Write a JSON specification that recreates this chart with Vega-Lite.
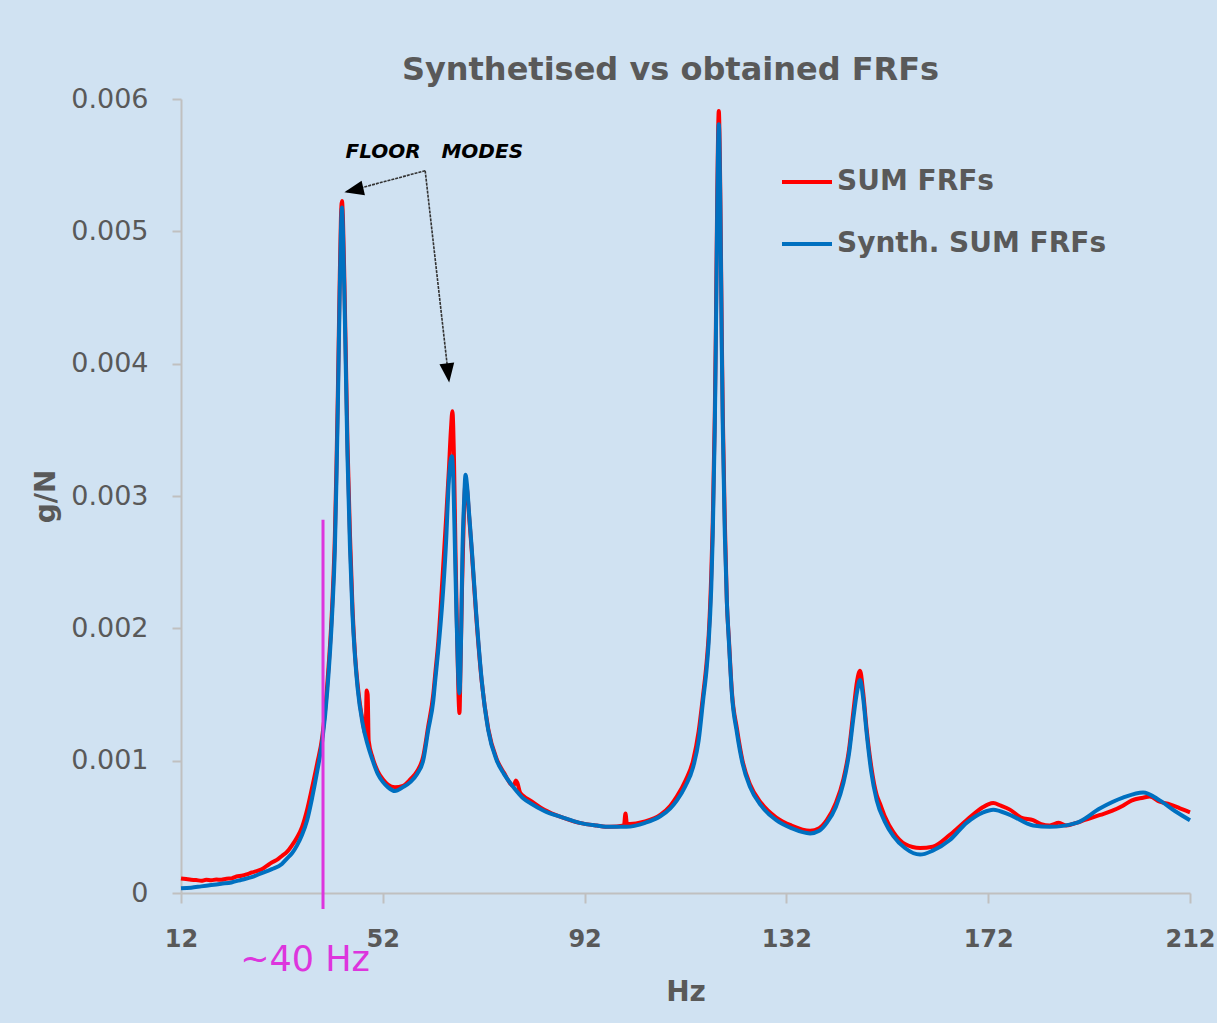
{
  "$schema": "https://vega.github.io/schema/vega-lite/v6.json",
  "width": 1009,
  "height": 794,
  "autosize": {"type": "none"},
  "padding": {"left": 181, "top": 99, "right": 27, "bottom": 130},
  "background": "#d0e2f2",
  "title": {
    "text": "Synthetised vs obtained FRFs",
    "font": "DejaVu Sans",
    "fontSize": 32,
    "fontWeight": "bold",
    "color": "#595959",
    "anchor": "middle",
    "dx": -15,
    "offset": -2
  },
  "config": {
    "view": {"stroke": null},
    "font": "DejaVu Sans"
  },
  "datasets": {
    "curves": [
      {"hz": 12, "gN": 0.00011, "series": "SUM FRFs"},
      {"hz": 13, "gN": 0.000105, "series": "SUM FRFs"},
      {"hz": 14, "gN": 0.0001, "series": "SUM FRFs"},
      {"hz": 15, "gN": 0.000098, "series": "SUM FRFs"},
      {"hz": 16, "gN": 0.000092, "series": "SUM FRFs"},
      {"hz": 17, "gN": 0.0001, "series": "SUM FRFs"},
      {"hz": 18, "gN": 0.000096, "series": "SUM FRFs"},
      {"hz": 19, "gN": 0.000102, "series": "SUM FRFs"},
      {"hz": 20, "gN": 0.0001, "series": "SUM FRFs"},
      {"hz": 21, "gN": 0.000108, "series": "SUM FRFs"},
      {"hz": 22, "gN": 0.00011, "series": "SUM FRFs"},
      {"hz": 23, "gN": 0.000125, "series": "SUM FRFs"},
      {"hz": 24, "gN": 0.00013, "series": "SUM FRFs"},
      {"hz": 25, "gN": 0.00014, "series": "SUM FRFs"},
      {"hz": 26, "gN": 0.000155, "series": "SUM FRFs"},
      {"hz": 27, "gN": 0.000165, "series": "SUM FRFs"},
      {"hz": 28, "gN": 0.00018, "series": "SUM FRFs"},
      {"hz": 29, "gN": 0.000205, "series": "SUM FRFs"},
      {"hz": 30, "gN": 0.00023, "series": "SUM FRFs"},
      {"hz": 31, "gN": 0.00025, "series": "SUM FRFs"},
      {"hz": 32, "gN": 0.00028, "series": "SUM FRFs"},
      {"hz": 33, "gN": 0.00031, "series": "SUM FRFs"},
      {"hz": 34, "gN": 0.00036, "series": "SUM FRFs"},
      {"hz": 35, "gN": 0.00042, "series": "SUM FRFs"},
      {"hz": 36, "gN": 0.0005, "series": "SUM FRFs"},
      {"hz": 37, "gN": 0.00063, "series": "SUM FRFs"},
      {"hz": 38, "gN": 0.0008, "series": "SUM FRFs"},
      {"hz": 39, "gN": 0.00098, "series": "SUM FRFs"},
      {"hz": 40, "gN": 0.00118, "series": "SUM FRFs"},
      {"hz": 41, "gN": 0.00158, "series": "SUM FRFs"},
      {"hz": 42, "gN": 0.0022, "series": "SUM FRFs"},
      {"hz": 42.5, "gN": 0.0027, "series": "SUM FRFs"},
      {"hz": 42.8, "gN": 0.0032, "series": "SUM FRFs"},
      {"hz": 43.1, "gN": 0.0038, "series": "SUM FRFs"},
      {"hz": 43.4, "gN": 0.0045, "series": "SUM FRFs"},
      {"hz": 43.7, "gN": 0.0051, "series": "SUM FRFs"},
      {"hz": 43.9, "gN": 0.00523, "series": "SUM FRFs"},
      {"hz": 44.1, "gN": 0.0051, "series": "SUM FRFs"},
      {"hz": 44.4, "gN": 0.0046, "series": "SUM FRFs"},
      {"hz": 44.7, "gN": 0.004, "series": "SUM FRFs"},
      {"hz": 45, "gN": 0.0034, "series": "SUM FRFs"},
      {"hz": 45.5, "gN": 0.0027, "series": "SUM FRFs"},
      {"hz": 46, "gN": 0.00215, "series": "SUM FRFs"},
      {"hz": 46.5, "gN": 0.0018, "series": "SUM FRFs"},
      {"hz": 47, "gN": 0.00158, "series": "SUM FRFs"},
      {"hz": 48, "gN": 0.0013, "series": "SUM FRFs"},
      {"hz": 48.6, "gN": 0.0012, "series": "SUM FRFs"},
      {"hz": 48.8, "gN": 0.00153, "series": "SUM FRFs"},
      {"hz": 49.0, "gN": 0.0015, "series": "SUM FRFs"},
      {"hz": 49.2, "gN": 0.00115, "series": "SUM FRFs"},
      {"hz": 50, "gN": 0.00102, "series": "SUM FRFs"},
      {"hz": 51, "gN": 0.00092, "series": "SUM FRFs"},
      {"hz": 52, "gN": 0.00086, "series": "SUM FRFs"},
      {"hz": 53, "gN": 0.00082, "series": "SUM FRFs"},
      {"hz": 54.4, "gN": 0.0008, "series": "SUM FRFs"},
      {"hz": 56, "gN": 0.00081, "series": "SUM FRFs"},
      {"hz": 57.5, "gN": 0.00086, "series": "SUM FRFs"},
      {"hz": 58.8, "gN": 0.00092, "series": "SUM FRFs"},
      {"hz": 60, "gN": 0.00103, "series": "SUM FRFs"},
      {"hz": 61, "gN": 0.00126, "series": "SUM FRFs"},
      {"hz": 62, "gN": 0.0015, "series": "SUM FRFs"},
      {"hz": 62.4, "gN": 0.00166, "series": "SUM FRFs"},
      {"hz": 63, "gN": 0.0019, "series": "SUM FRFs"},
      {"hz": 63.7, "gN": 0.0023, "series": "SUM FRFs"},
      {"hz": 64.5, "gN": 0.0028, "series": "SUM FRFs"},
      {"hz": 65.1, "gN": 0.0032, "series": "SUM FRFs"},
      {"hz": 65.5, "gN": 0.0035, "series": "SUM FRFs"},
      {"hz": 65.8, "gN": 0.00364, "series": "SUM FRFs"},
      {"hz": 66.1, "gN": 0.0033, "series": "SUM FRFs"},
      {"hz": 66.4, "gN": 0.0026, "series": "SUM FRFs"},
      {"hz": 66.7, "gN": 0.002, "series": "SUM FRFs"},
      {"hz": 67.0, "gN": 0.0015, "series": "SUM FRFs"},
      {"hz": 67.2, "gN": 0.00136, "series": "SUM FRFs"},
      {"hz": 67.4, "gN": 0.0017, "series": "SUM FRFs"},
      {"hz": 67.7, "gN": 0.0023, "series": "SUM FRFs"},
      {"hz": 68.1, "gN": 0.0029, "series": "SUM FRFs"},
      {"hz": 68.4, "gN": 0.0031, "series": "SUM FRFs"},
      {"hz": 68.7, "gN": 0.00305, "series": "SUM FRFs"},
      {"hz": 69.1, "gN": 0.00285, "series": "SUM FRFs"},
      {"hz": 69.6, "gN": 0.0026, "series": "SUM FRFs"},
      {"hz": 70.5, "gN": 0.0021, "series": "SUM FRFs"},
      {"hz": 71.6, "gN": 0.0016, "series": "SUM FRFs"},
      {"hz": 72.9, "gN": 0.00124, "series": "SUM FRFs"},
      {"hz": 74.6, "gN": 0.00101, "series": "SUM FRFs"},
      {"hz": 76, "gN": 0.00091, "series": "SUM FRFs"},
      {"hz": 77.9, "gN": 0.00081, "series": "SUM FRFs"},
      {"hz": 78.4, "gN": 0.00085, "series": "SUM FRFs"},
      {"hz": 78.7, "gN": 0.00083, "series": "SUM FRFs"},
      {"hz": 79.2, "gN": 0.00076, "series": "SUM FRFs"},
      {"hz": 80, "gN": 0.00073, "series": "SUM FRFs"},
      {"hz": 81.2, "gN": 0.0007, "series": "SUM FRFs"},
      {"hz": 84, "gN": 0.00063, "series": "SUM FRFs"},
      {"hz": 87.7, "gN": 0.00057, "series": "SUM FRFs"},
      {"hz": 91, "gN": 0.00053, "series": "SUM FRFs"},
      {"hz": 94.4, "gN": 0.00051, "series": "SUM FRFs"},
      {"hz": 97, "gN": 0.0005, "series": "SUM FRFs"},
      {"hz": 99.8, "gN": 0.00051, "series": "SUM FRFs"},
      {"hz": 100.1, "gN": 0.0006, "series": "SUM FRFs"},
      {"hz": 100.4, "gN": 0.00052, "series": "SUM FRFs"},
      {"hz": 104, "gN": 0.00054, "series": "SUM FRFs"},
      {"hz": 107, "gN": 0.00059, "series": "SUM FRFs"},
      {"hz": 109, "gN": 0.00066, "series": "SUM FRFs"},
      {"hz": 110.3, "gN": 0.00073, "series": "SUM FRFs"},
      {"hz": 112, "gN": 0.00085, "series": "SUM FRFs"},
      {"hz": 113.5, "gN": 0.001, "series": "SUM FRFs"},
      {"hz": 114.6, "gN": 0.00122, "series": "SUM FRFs"},
      {"hz": 115.5, "gN": 0.0015, "series": "SUM FRFs"},
      {"hz": 116.2, "gN": 0.00175, "series": "SUM FRFs"},
      {"hz": 116.6, "gN": 0.00195, "series": "SUM FRFs"},
      {"hz": 117.1, "gN": 0.0024, "series": "SUM FRFs"},
      {"hz": 117.4, "gN": 0.0028, "series": "SUM FRFs"},
      {"hz": 117.8, "gN": 0.0036, "series": "SUM FRFs"},
      {"hz": 118.0, "gN": 0.0042, "series": "SUM FRFs"},
      {"hz": 118.3, "gN": 0.0053, "series": "SUM FRFs"},
      {"hz": 118.6, "gN": 0.00591, "series": "SUM FRFs"},
      {"hz": 118.9, "gN": 0.0053, "series": "SUM FRFs"},
      {"hz": 119.2, "gN": 0.0042, "series": "SUM FRFs"},
      {"hz": 119.4, "gN": 0.0036, "series": "SUM FRFs"},
      {"hz": 119.8, "gN": 0.0028, "series": "SUM FRFs"},
      {"hz": 120.2, "gN": 0.0022, "series": "SUM FRFs"},
      {"hz": 120.6, "gN": 0.00192, "series": "SUM FRFs"},
      {"hz": 121.2, "gN": 0.00152, "series": "SUM FRFs"},
      {"hz": 122.2, "gN": 0.00124, "series": "SUM FRFs"},
      {"hz": 123.3, "gN": 0.001, "series": "SUM FRFs"},
      {"hz": 124.8, "gN": 0.00082, "series": "SUM FRFs"},
      {"hz": 127, "gN": 0.00068, "series": "SUM FRFs"},
      {"hz": 130, "gN": 0.00057, "series": "SUM FRFs"},
      {"hz": 133, "gN": 0.00051, "series": "SUM FRFs"},
      {"hz": 136.7, "gN": 0.00047, "series": "SUM FRFs"},
      {"hz": 138.5, "gN": 0.00049, "series": "SUM FRFs"},
      {"hz": 140, "gN": 0.00055, "series": "SUM FRFs"},
      {"hz": 141.8, "gN": 0.00068, "series": "SUM FRFs"},
      {"hz": 143.3, "gN": 0.00086, "series": "SUM FRFs"},
      {"hz": 144.4, "gN": 0.00108, "series": "SUM FRFs"},
      {"hz": 145.3, "gN": 0.00138, "series": "SUM FRFs"},
      {"hz": 146.0, "gN": 0.0016, "series": "SUM FRFs"},
      {"hz": 146.6, "gN": 0.00168, "series": "SUM FRFs"},
      {"hz": 147.2, "gN": 0.00152, "series": "SUM FRFs"},
      {"hz": 147.9, "gN": 0.00124, "series": "SUM FRFs"},
      {"hz": 148.8, "gN": 0.00096, "series": "SUM FRFs"},
      {"hz": 149.9, "gN": 0.00074, "series": "SUM FRFs"},
      {"hz": 150.5, "gN": 0.00068, "series": "SUM FRFs"},
      {"hz": 151.5, "gN": 0.00058, "series": "SUM FRFs"},
      {"hz": 153.2, "gN": 0.00046, "series": "SUM FRFs"},
      {"hz": 155.5, "gN": 0.00037, "series": "SUM FRFs"},
      {"hz": 158.5, "gN": 0.00034, "series": "SUM FRFs"},
      {"hz": 161, "gN": 0.00035, "series": "SUM FRFs"},
      {"hz": 164.4, "gN": 0.00044, "series": "SUM FRFs"},
      {"hz": 167.7, "gN": 0.00055, "series": "SUM FRFs"},
      {"hz": 171, "gN": 0.00065, "series": "SUM FRFs"},
      {"hz": 172, "gN": 0.00067, "series": "SUM FRFs"},
      {"hz": 173, "gN": 0.00068, "series": "SUM FRFs"},
      {"hz": 174.5, "gN": 0.00066, "series": "SUM FRFs"},
      {"hz": 176.3, "gN": 0.00063, "series": "SUM FRFs"},
      {"hz": 178.5, "gN": 0.00057, "series": "SUM FRFs"},
      {"hz": 180.9, "gN": 0.00055, "series": "SUM FRFs"},
      {"hz": 182.5, "gN": 0.00052, "series": "SUM FRFs"},
      {"hz": 184.2, "gN": 0.00051, "series": "SUM FRFs"},
      {"hz": 186, "gN": 0.00053, "series": "SUM FRFs"},
      {"hz": 187.5, "gN": 0.00051, "series": "SUM FRFs"},
      {"hz": 189.5, "gN": 0.00053, "series": "SUM FRFs"},
      {"hz": 191, "gN": 0.00055, "series": "SUM FRFs"},
      {"hz": 194.2, "gN": 0.00059, "series": "SUM FRFs"},
      {"hz": 196.5, "gN": 0.00062, "series": "SUM FRFs"},
      {"hz": 198.7, "gN": 0.00066, "series": "SUM FRFs"},
      {"hz": 200.5, "gN": 0.0007, "series": "SUM FRFs"},
      {"hz": 202.7, "gN": 0.00072, "series": "SUM FRFs"},
      {"hz": 204, "gN": 0.00073, "series": "SUM FRFs"},
      {"hz": 206, "gN": 0.00069, "series": "SUM FRFs"},
      {"hz": 208, "gN": 0.00067, "series": "SUM FRFs"},
      {"hz": 210, "gN": 0.00064, "series": "SUM FRFs"},
      {"hz": 212, "gN": 0.00061, "series": "SUM FRFs"},

      {"hz": 12, "gN": 0.000035, "series": "Synth. SUM FRFs"},
      {"hz": 14, "gN": 0.00004, "series": "Synth. SUM FRFs"},
      {"hz": 16, "gN": 0.00005, "series": "Synth. SUM FRFs"},
      {"hz": 18, "gN": 0.00006, "series": "Synth. SUM FRFs"},
      {"hz": 20, "gN": 0.00007, "series": "Synth. SUM FRFs"},
      {"hz": 22, "gN": 0.00008, "series": "Synth. SUM FRFs"},
      {"hz": 24, "gN": 0.0001, "series": "Synth. SUM FRFs"},
      {"hz": 26, "gN": 0.00012, "series": "Synth. SUM FRFs"},
      {"hz": 28, "gN": 0.00015, "series": "Synth. SUM FRFs"},
      {"hz": 30, "gN": 0.00018, "series": "Synth. SUM FRFs"},
      {"hz": 32, "gN": 0.00022, "series": "Synth. SUM FRFs"},
      {"hz": 33, "gN": 0.00026, "series": "Synth. SUM FRFs"},
      {"hz": 34, "gN": 0.0003, "series": "Synth. SUM FRFs"},
      {"hz": 35, "gN": 0.00036, "series": "Synth. SUM FRFs"},
      {"hz": 36, "gN": 0.00044, "series": "Synth. SUM FRFs"},
      {"hz": 37, "gN": 0.00055, "series": "Synth. SUM FRFs"},
      {"hz": 38, "gN": 0.00072, "series": "Synth. SUM FRFs"},
      {"hz": 39, "gN": 0.00092, "series": "Synth. SUM FRFs"},
      {"hz": 40, "gN": 0.00115, "series": "Synth. SUM FRFs"},
      {"hz": 41, "gN": 0.00153, "series": "Synth. SUM FRFs"},
      {"hz": 42, "gN": 0.00214, "series": "Synth. SUM FRFs"},
      {"hz": 42.5, "gN": 0.0026, "series": "Synth. SUM FRFs"},
      {"hz": 42.8, "gN": 0.0031, "series": "Synth. SUM FRFs"},
      {"hz": 43.1, "gN": 0.0037, "series": "Synth. SUM FRFs"},
      {"hz": 43.4, "gN": 0.0044, "series": "Synth. SUM FRFs"},
      {"hz": 43.7, "gN": 0.005, "series": "Synth. SUM FRFs"},
      {"hz": 43.9, "gN": 0.00518, "series": "Synth. SUM FRFs"},
      {"hz": 44.1, "gN": 0.005, "series": "Synth. SUM FRFs"},
      {"hz": 44.4, "gN": 0.0045, "series": "Synth. SUM FRFs"},
      {"hz": 44.7, "gN": 0.0039, "series": "Synth. SUM FRFs"},
      {"hz": 45, "gN": 0.0033, "series": "Synth. SUM FRFs"},
      {"hz": 45.5, "gN": 0.0026, "series": "Synth. SUM FRFs"},
      {"hz": 46, "gN": 0.0021, "series": "Synth. SUM FRFs"},
      {"hz": 46.5, "gN": 0.00178, "series": "Synth. SUM FRFs"},
      {"hz": 47, "gN": 0.00155, "series": "Synth. SUM FRFs"},
      {"hz": 48, "gN": 0.00128, "series": "Synth. SUM FRFs"},
      {"hz": 49, "gN": 0.00112, "series": "Synth. SUM FRFs"},
      {"hz": 50, "gN": 0.001, "series": "Synth. SUM FRFs"},
      {"hz": 51, "gN": 0.0009, "series": "Synth. SUM FRFs"},
      {"hz": 52, "gN": 0.00084, "series": "Synth. SUM FRFs"},
      {"hz": 53, "gN": 0.0008, "series": "Synth. SUM FRFs"},
      {"hz": 54.4, "gN": 0.00077, "series": "Synth. SUM FRFs"},
      {"hz": 56, "gN": 0.0008, "series": "Synth. SUM FRFs"},
      {"hz": 57.5, "gN": 0.00084, "series": "Synth. SUM FRFs"},
      {"hz": 58.8, "gN": 0.0009, "series": "Synth. SUM FRFs"},
      {"hz": 60, "gN": 0.001, "series": "Synth. SUM FRFs"},
      {"hz": 61, "gN": 0.00123, "series": "Synth. SUM FRFs"},
      {"hz": 62, "gN": 0.00145, "series": "Synth. SUM FRFs"},
      {"hz": 62.4, "gN": 0.00161, "series": "Synth. SUM FRFs"},
      {"hz": 63, "gN": 0.00184, "series": "Synth. SUM FRFs"},
      {"hz": 63.7, "gN": 0.00215, "series": "Synth. SUM FRFs"},
      {"hz": 64.5, "gN": 0.00262, "series": "Synth. SUM FRFs"},
      {"hz": 65.1, "gN": 0.00312, "series": "Synth. SUM FRFs"},
      {"hz": 65.5, "gN": 0.00328, "series": "Synth. SUM FRFs"},
      {"hz": 65.7, "gN": 0.0033, "series": "Synth. SUM FRFs"},
      {"hz": 66, "gN": 0.0031, "series": "Synth. SUM FRFs"},
      {"hz": 66.3, "gN": 0.0026, "series": "Synth. SUM FRFs"},
      {"hz": 66.6, "gN": 0.0021, "series": "Synth. SUM FRFs"},
      {"hz": 66.9, "gN": 0.0017, "series": "Synth. SUM FRFs"},
      {"hz": 67.2, "gN": 0.00151, "series": "Synth. SUM FRFs"},
      {"hz": 67.5, "gN": 0.0019, "series": "Synth. SUM FRFs"},
      {"hz": 67.8, "gN": 0.0026, "series": "Synth. SUM FRFs"},
      {"hz": 68.1, "gN": 0.00295, "series": "Synth. SUM FRFs"},
      {"hz": 68.4, "gN": 0.00316, "series": "Synth. SUM FRFs"},
      {"hz": 68.7, "gN": 0.00308, "series": "Synth. SUM FRFs"},
      {"hz": 69.1, "gN": 0.00287, "series": "Synth. SUM FRFs"},
      {"hz": 69.6, "gN": 0.00262, "series": "Synth. SUM FRFs"},
      {"hz": 70.5, "gN": 0.00212, "series": "Synth. SUM FRFs"},
      {"hz": 71.6, "gN": 0.00161, "series": "Synth. SUM FRFs"},
      {"hz": 72.9, "gN": 0.00123, "series": "Synth. SUM FRFs"},
      {"hz": 74.6, "gN": 0.001, "series": "Synth. SUM FRFs"},
      {"hz": 76, "gN": 0.0009, "series": "Synth. SUM FRFs"},
      {"hz": 77.9, "gN": 0.0008, "series": "Synth. SUM FRFs"},
      {"hz": 80, "gN": 0.00071, "series": "Synth. SUM FRFs"},
      {"hz": 81.2, "gN": 0.00068, "series": "Synth. SUM FRFs"},
      {"hz": 84, "gN": 0.00062, "series": "Synth. SUM FRFs"},
      {"hz": 87.7, "gN": 0.00057, "series": "Synth. SUM FRFs"},
      {"hz": 91, "gN": 0.00053, "series": "Synth. SUM FRFs"},
      {"hz": 94.4, "gN": 0.00051, "series": "Synth. SUM FRFs"},
      {"hz": 97, "gN": 0.0005, "series": "Synth. SUM FRFs"},
      {"hz": 100.3, "gN": 0.0005, "series": "Synth. SUM FRFs"},
      {"hz": 104, "gN": 0.00053, "series": "Synth. SUM FRFs"},
      {"hz": 107, "gN": 0.00058, "series": "Synth. SUM FRFs"},
      {"hz": 109, "gN": 0.00064, "series": "Synth. SUM FRFs"},
      {"hz": 110.3, "gN": 0.0007, "series": "Synth. SUM FRFs"},
      {"hz": 112, "gN": 0.00081, "series": "Synth. SUM FRFs"},
      {"hz": 113.5, "gN": 0.00095, "series": "Synth. SUM FRFs"},
      {"hz": 114.6, "gN": 0.00115, "series": "Synth. SUM FRFs"},
      {"hz": 115.5, "gN": 0.00146, "series": "Synth. SUM FRFs"},
      {"hz": 116.2, "gN": 0.0017, "series": "Synth. SUM FRFs"},
      {"hz": 116.6, "gN": 0.0019, "series": "Synth. SUM FRFs"},
      {"hz": 117.1, "gN": 0.0023, "series": "Synth. SUM FRFs"},
      {"hz": 117.4, "gN": 0.0027, "series": "Synth. SUM FRFs"},
      {"hz": 117.8, "gN": 0.0035, "series": "Synth. SUM FRFs"},
      {"hz": 118.0, "gN": 0.0041, "series": "Synth. SUM FRFs"},
      {"hz": 118.3, "gN": 0.0052, "series": "Synth. SUM FRFs"},
      {"hz": 118.6, "gN": 0.00581, "series": "Synth. SUM FRFs"},
      {"hz": 118.9, "gN": 0.0052, "series": "Synth. SUM FRFs"},
      {"hz": 119.2, "gN": 0.0041, "series": "Synth. SUM FRFs"},
      {"hz": 119.4, "gN": 0.0035, "series": "Synth. SUM FRFs"},
      {"hz": 119.8, "gN": 0.0027, "series": "Synth. SUM FRFs"},
      {"hz": 120.2, "gN": 0.0022, "series": "Synth. SUM FRFs"},
      {"hz": 120.6, "gN": 0.0019, "series": "Synth. SUM FRFs"},
      {"hz": 121.2, "gN": 0.0015, "series": "Synth. SUM FRFs"},
      {"hz": 122.2, "gN": 0.00121, "series": "Synth. SUM FRFs"},
      {"hz": 123.3, "gN": 0.00098, "series": "Synth. SUM FRFs"},
      {"hz": 124.8, "gN": 0.0008, "series": "Synth. SUM FRFs"},
      {"hz": 127, "gN": 0.00066, "series": "Synth. SUM FRFs"},
      {"hz": 130, "gN": 0.00055, "series": "Synth. SUM FRFs"},
      {"hz": 133, "gN": 0.00049, "series": "Synth. SUM FRFs"},
      {"hz": 136.7, "gN": 0.00045, "series": "Synth. SUM FRFs"},
      {"hz": 138.5, "gN": 0.00047, "series": "Synth. SUM FRFs"},
      {"hz": 140, "gN": 0.00053, "series": "Synth. SUM FRFs"},
      {"hz": 141.8, "gN": 0.00065, "series": "Synth. SUM FRFs"},
      {"hz": 143.3, "gN": 0.00083, "series": "Synth. SUM FRFs"},
      {"hz": 144.4, "gN": 0.00105, "series": "Synth. SUM FRFs"},
      {"hz": 145.3, "gN": 0.00133, "series": "Synth. SUM FRFs"},
      {"hz": 146.0, "gN": 0.00152, "series": "Synth. SUM FRFs"},
      {"hz": 146.6, "gN": 0.00161, "series": "Synth. SUM FRFs"},
      {"hz": 147.2, "gN": 0.00148, "series": "Synth. SUM FRFs"},
      {"hz": 147.9, "gN": 0.00121, "series": "Synth. SUM FRFs"},
      {"hz": 148.8, "gN": 0.00092, "series": "Synth. SUM FRFs"},
      {"hz": 149.9, "gN": 0.0007, "series": "Synth. SUM FRFs"},
      {"hz": 151.5, "gN": 0.00054, "series": "Synth. SUM FRFs"},
      {"hz": 153.2, "gN": 0.00043, "series": "Synth. SUM FRFs"},
      {"hz": 155.5, "gN": 0.00034, "series": "Synth. SUM FRFs"},
      {"hz": 158.5, "gN": 0.00029, "series": "Synth. SUM FRFs"},
      {"hz": 161, "gN": 0.00032, "series": "Synth. SUM FRFs"},
      {"hz": 164.4, "gN": 0.0004, "series": "Synth. SUM FRFs"},
      {"hz": 167.7, "gN": 0.00053, "series": "Synth. SUM FRFs"},
      {"hz": 171, "gN": 0.00061, "series": "Synth. SUM FRFs"},
      {"hz": 173, "gN": 0.00063, "series": "Synth. SUM FRFs"},
      {"hz": 176.3, "gN": 0.00059, "series": "Synth. SUM FRFs"},
      {"hz": 180.9, "gN": 0.00051, "series": "Synth. SUM FRFs"},
      {"hz": 184.2, "gN": 0.0005, "series": "Synth. SUM FRFs"},
      {"hz": 189.5, "gN": 0.00053, "series": "Synth. SUM FRFs"},
      {"hz": 194.2, "gN": 0.00064, "series": "Synth. SUM FRFs"},
      {"hz": 198.7, "gN": 0.00072, "series": "Synth. SUM FRFs"},
      {"hz": 202.7, "gN": 0.00076, "series": "Synth. SUM FRFs"},
      {"hz": 206, "gN": 0.0007, "series": "Synth. SUM FRFs"},
      {"hz": 209, "gN": 0.00062, "series": "Synth. SUM FRFs"},
      {"hz": 212, "gN": 0.00055, "series": "Synth. SUM FRFs"}
    ]
  },
  "encoding": {
    "x": {
      "type": "quantitative",
      "scale": {"domain": [12, 212], "nice": false, "zero": false},
      "axis": {
        "title": "Hz",
        "values": [12, 52, 92, 132, 172, 212],
        "grid": false,
        "labelFlush": false,
        "labelOverlap": false,
        "domainColor": "#c0c0c0",
        "domainWidth": 2,
        "tickColor": "#c0c0c0",
        "tickWidth": 2,
        "tickSize": 10,
        "labelFont": "DejaVu Sans",
        "labelFontSize": 24,
        "labelFontWeight": "bold",
        "labelColor": "#595959",
        "labelPadding": 24,
        "titleFont": "DejaVu Sans",
        "titleFontSize": 28,
        "titleFontWeight": "bold",
        "titleColor": "#595959",
        "titlePadding": 27
      }
    },
    "y": {
      "type": "quantitative",
      "scale": {"domain": [0, 0.006], "nice": false},
      "axis": {
        "title": "g/N",
        "values": [0, 0.001, 0.002, 0.003, 0.004, 0.005, 0.006],
        "labelExpr": "datum.value === 0 ? '0' : format(datum.value, '.3f')",
        "grid": false,
        "labelFlush": false,
        "domainColor": "#c0c0c0",
        "domainWidth": 2,
        "tickColor": "#c0c0c0",
        "tickWidth": 2,
        "tickSize": 9,
        "labelFont": "DejaVu Sans",
        "labelFontSize": 27,
        "labelColor": "#595959",
        "labelPadding": 24,
        "titleFont": "DejaVu Sans",
        "titleFontSize": 28,
        "titleFontWeight": "bold",
        "titleColor": "#595959",
        "titlePadding": 10
      }
    }
  },
  "layer": [
    {
      "data": {"name": "curves"},
      "transform": [{"filter": "datum.series === 'SUM FRFs'"}],
      "mark": {"type": "line", "strokeWidth": 4, "interpolate": "monotone"},
      "encoding": {
        "x": {"field": "hz", "type": "quantitative"},
        "y": {"field": "gN", "type": "quantitative"},
        "color": {
          "field": "series",
          "type": "nominal",
          "scale": {"domain": ["SUM FRFs", "Synth. SUM FRFs"], "range": ["#ff0000", "#0070c0"]},
          "legend": {
            "title": null,
            "orient": "none",
            "legendX": 599,
            "legendY": 56,
            "padding": 0,
            "symbolType": "stroke",
            "symbolSize": 2500,
            "symbolStrokeWidth": 4,
            "rowPadding": 21,
            "labelOffset": 3,
            "labelFont": "DejaVu Sans",
            "labelFontSize": 28,
            "labelFontWeight": "bold",
            "labelColor": "#595959",
            "labelLimit": 400
          }
        }
      }
    },
    {
      "data": {"name": "curves"},
      "transform": [{"filter": "datum.series === 'Synth. SUM FRFs'"}],
      "mark": {"type": "line", "strokeWidth": 4, "interpolate": "monotone"},
      "encoding": {
        "x": {"field": "hz", "type": "quantitative"},
        "y": {"field": "gN", "type": "quantitative"},
        "color": {"field": "series", "type": "nominal"}
      }
    },
    {
      "data": {"values": [
        {"x1": 60.4, "y1": 0.005458, "x2": 44.85, "y2": 0.0053},
        {"x1": 60.4, "y1": 0.005458, "x2": 65.1, "y2": 0.003877}
      ]},
      "mark": {"type": "rule", "color": "#333333", "strokeWidth": 1.6, "strokeDash": [3, 1]},
      "encoding": {
        "x": {"field": "x1", "type": "quantitative"},
        "y": {"field": "y1", "type": "quantitative"},
        "x2": {"field": "x2"},
        "y2": {"field": "y2"}
      }
    },
    {
      "data": {"values": [
        {"x": 46.59, "y": 0.005314, "ang": 257},
        {"x": 64.88, "y": 0.003943, "ang": 173}
      ]},
      "mark": {"type": "point", "shape": "M0,-1L0.65,0.7L-0.65,0.7Z", "filled": true, "color": "#000000", "opacity": 1, "size": 520},
      "encoding": {
        "x": {"field": "x", "type": "quantitative"},
        "y": {"field": "y", "type": "quantitative"},
        "angle": {"field": "ang", "type": "quantitative", "scale": null}
      }
    },
    {
      "data": {"values": [{"x": 62.2, "y": 0.005554, "label": "FLOOR\u00a0\u00a0\u00a0MODES"}]},
      "mark": {"type": "text", "font": "DejaVu Sans", "fontSize": 20, "fontWeight": "bold", "fontStyle": "italic", "color": "#000000", "align": "center", "baseline": "alphabetic"},
      "encoding": {
        "x": {"field": "x", "type": "quantitative"},
        "y": {"field": "y", "type": "quantitative"},
        "text": {"field": "label"}
      }
    },
    {
      "data": {"values": [{"x": 40.15, "y": -0.00012, "y2": 0.00282}]},
      "mark": {"type": "rule", "color": "#dd35dd", "strokeWidth": 3},
      "encoding": {
        "x": {"field": "x", "type": "quantitative"},
        "y": {"field": "y", "type": "quantitative"},
        "y2": {"field": "y2"}
      }
    },
    {
      "data": {"values": [{"x": 36.6, "y": -0.00059, "label": "~40 Hz"}]},
      "mark": {"type": "text", "font": "DejaVu Sans", "fontSize": 35, "color": "#dd35dd", "align": "center", "baseline": "alphabetic"},
      "encoding": {
        "x": {"field": "x", "type": "quantitative"},
        "y": {"field": "y", "type": "quantitative"},
        "text": {"field": "label"}
      }
    }
  ]
}
